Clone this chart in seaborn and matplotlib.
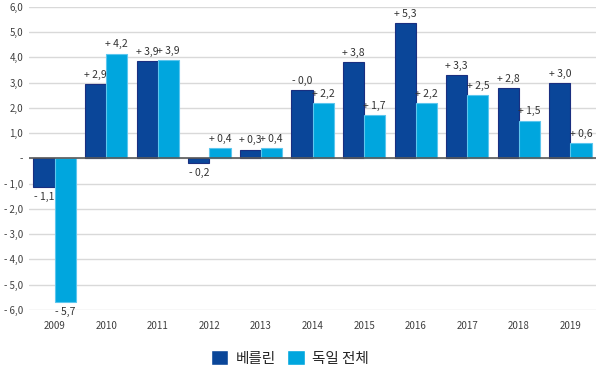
import pandas as pd
import seaborn as sns
import matplotlib.pyplot as plt

# Données
years = ['2009', '2010', '2011', '2012', '2013', '2014', '2015', '2016', '2017', '2018', '2019']
berlin = [-1.15, 2.95, 3.85, -0.2, 0.35, 2.7, 3.8, 5.35, 3.3, 2.8, 3.0]
germany = [-5.7, 4.15, 3.9, 0.4, 0.4, 2.2, 1.7, 2.2, 2.5, 1.5, 0.6]
berlin_labels = ['- 1,1', '+ 2,9', '+ 3,9', '- 0,2', '+ 0,3', '- 0,0', '+ 3,8', '+ 5,3', '+ 3,3', '+ 2,8', '+ 3,0']
germany_labels = ['- 5,7', '+ 4,2', '+ 3,9', '+ 0,4', '+ 0,4', '+ 2,2', '+ 1,7', '+ 2,2', '+ 2,5', '+ 1,5', '+ 0,6']
series_names = ['베를린', '독일 전체']
y_ticks = [6, 5, 4, 3, 2, 1, 0, -1, -2, -3, -4, -5, -6]
y_tick_labels = ['6,0', '5,0', '4,0', '3,0', '2,0', '1,0', '-', '- 1,0', '- 2,0', '- 3,0', '- 4,0', '- 5,0', '- 6,0']

sns.set_style('white')
plt.rcParams['font.family'] = ['Noto Sans CJK KR', 'DejaVu Sans']

df = pd.DataFrame({
    'year': years * 2,
    'value': berlin + germany,
    'serie': [series_names[0]] * len(years) + [series_names[1]] * len(years),
})

fig = plt.figure(figsize=(6.01, 3.65), dpi=100)
ax = fig.add_axes([0.048, 0.151, 0.944, 0.830])

colors = ['#0A4699', '#00A6DE']
sns.barplot(data=df, x='year', y='value', hue='serie', palette=colors, saturation=1,
            width=0.82, ax=ax, errorbar=None, legend=True, zorder=3)

# bordures des barres
edge_colors = ['#1A2F80', '#5CC6EE']
for cont, ec in zip(ax.containers, edge_colors):
    for bar in cont:
        bar.set_edgecolor(ec)
        bar.set_linewidth(0.8)

# étiquettes de données
for cont, labels in zip(ax.containers, [berlin_labels, germany_labels]):
    ax.bar_label(cont, labels=labels, padding=3, fontsize=7.5, color='#333333')

ax.set_ylim(-6, 6)
ax.set_xlim(-0.5, 10.5)
ax.set_yticks(y_ticks)
ax.set_yticklabels(y_tick_labels, fontsize=7, color='#404040')
ax.tick_params(axis='x', labelsize=7, colors='#404040', length=0, pad=8)
ax.tick_params(axis='y', length=0, pad=4)
ax.set_xlabel('')
ax.set_ylabel('')
ax.yaxis.grid(True, color='#D9D9D9', linewidth=1, zorder=0)
ax.axhline(0, color='#595959', linewidth=1.2, zorder=4)
for s in ax.spines.values():
    s.set_visible(False)

ax.legend(loc='upper center', bbox_to_anchor=(0.46, -0.09), ncol=2, frameon=False,
          fontsize=10.5, handlelength=1.2, handleheight=1.2, columnspacing=0.8,
          handletextpad=0.5)

fig.savefig('out.png', dpi=100)
